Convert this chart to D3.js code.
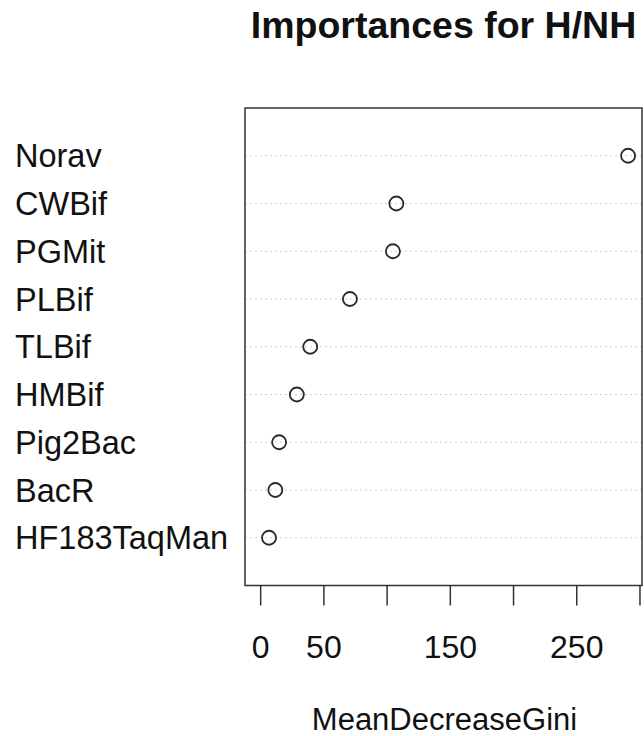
<!DOCTYPE html>
<html>
<head>
<meta charset="utf-8">
<script src="https://cdn.jsdelivr.net/npm/d3@7"></script>
<style>
  body { margin: 0; background: #fff; }
  svg text { font-family: "Liberation Sans", Arial, Helvetica, sans-serif; fill: #111; }
</style>
</head>
<body>
<svg id="chart" width="644" height="736"></svg>
<script>
// variables, top to bottom as in the plot
const variables = ["Norav", "CWBif", "PGMit", "PLBif", "TLBif", "HMBif", "Pig2Bac", "BacR", "HF183TaqMan"];
const meanDecreaseGini = [291, 107.7, 105, 71, 39.6, 29, 15, 12, 7];

const xTicks = [0, 50, 100, 150, 200, 250, 300];
const xTickLabels = ["0", "50", "", "150", "", "250", ""]; // R drops the overlapping ones
const xLimits = [-12, 302];

const title = "Importances for H/NH";
const xTitle = "MeanDecreaseGini";

const svg = d3.select("#chart");

// plot box
const box = { left: 245, right: 642, top: 108, bottom: 585.5 };

const x = d3.scaleLinear().domain(xLimits).range([box.left, box.right]);
// rows counted from the bottom (1) to the top (n), like dotchart
const n = variables.length;
const y = d3.scaleLinear().domain([0, n + 1]).range([box.bottom, box.top]);
const rowY = (i) => y(n - i);

// dotted guide lines
svg.append("g")
    .selectAll("line")
    .data(variables)
    .join("line")
    .attr("x1", box.left)
    .attr("x2", box.right)
    .attr("y1", (d, i) => rowY(i))
    .attr("y2", (d, i) => rowY(i))
    .attr("stroke", "#cfcfcf")
    .attr("stroke-width", 1)
    .attr("stroke-dasharray", "2,3");

// points
svg.append("g")
    .selectAll("circle")
    .data(meanDecreaseGini)
    .join("circle")
    .attr("cx", (d) => x(d))
    .attr("cy", (d, i) => rowY(i))
    .attr("r", 7)
    .attr("fill", "none")
    .attr("stroke", "#2a2a2a")
    .attr("stroke-width", 1.8);

// box
svg.append("rect")
    .attr("x", box.left)
    .attr("y", box.top)
    .attr("width", box.right - box.left)
    .attr("height", box.bottom - box.top)
    .attr("fill", "none")
    .attr("stroke", "#333")
    .attr("stroke-width", 1.5);

// x axis
const xAxis = d3.axisBottom(x)
    .tickValues(xTicks)
    .tickSize(20)
    .tickPadding(30)
    .tickFormat((d, i) => xTickLabels[i]);

const axisG = svg.append("g")
    .attr("transform", `translate(0,${box.bottom})`)
    .call(xAxis);
axisG.select(".domain").remove();
axisG.selectAll(".tick line").attr("stroke", "#333").attr("stroke-width", 1.5);
axisG.selectAll(".tick text")
    .style("font-size", "32px")
    .style("font-family", "\"Liberation Sans\", Arial, sans-serif")
    .attr("fill", "#111");

// row labels
svg.append("g")
    .selectAll("text")
    .data(variables)
    .join("text")
    .attr("x", 15)
    .attr("y", (d, i) => rowY(i) + 11.5)
    .style("font-size", "32.5px")
    .text((d) => d);

// titles
svg.append("text")
    .attr("x", (box.left + box.right) / 2)
    .attr("y", 38)
    .attr("text-anchor", "middle")
    .style("font-size", "37.5px")
    .style("font-weight", "bold")
    .text(title);

svg.append("text")
    .attr("x", (box.left + box.right) / 2 + 1)
    .attr("y", 730)
    .attr("text-anchor", "middle")
    .style("font-size", "31px")
    .text(xTitle);
</script>
</body>
</html>
